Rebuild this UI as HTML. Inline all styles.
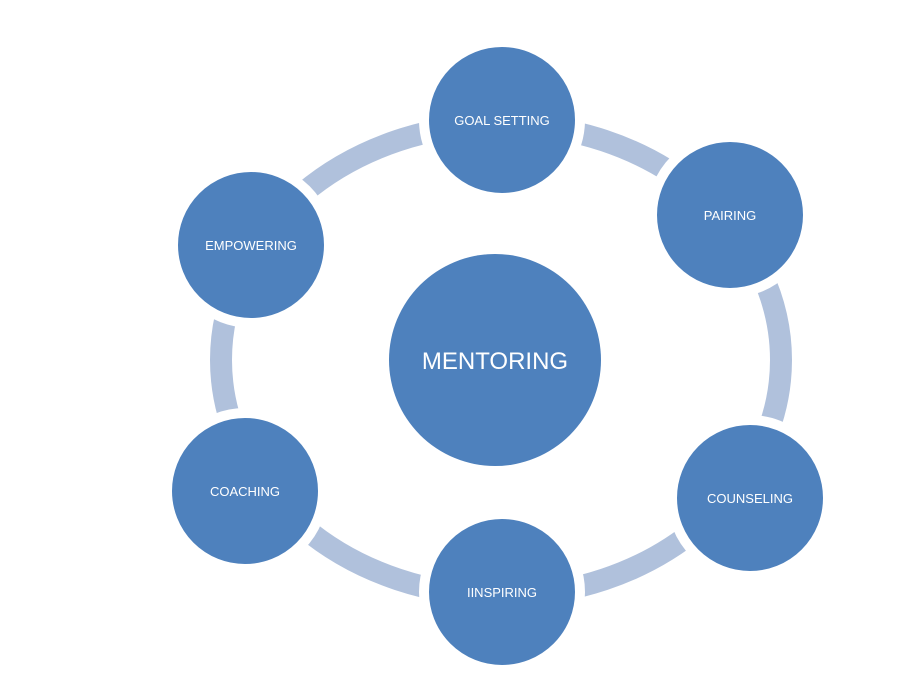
<!DOCTYPE html>
<html><head><style>body{margin:0;background:#fff}svg{display:block}</style></head>
<body>
<svg width="904" height="684" viewBox="0 0 904 684" xmlns="http://www.w3.org/2000/svg" font-family="Liberation Sans, sans-serif">
<rect width="904" height="684" fill="#fff"/>
<ellipse cx="501" cy="360" rx="280" ry="236" fill="none" stroke="#b0c1dc" stroke-width="22"/>
<g fill="#4e81bd" stroke="#fff" stroke-width="10">
<circle cx="502" cy="120" r="78"/>
<circle cx="730" cy="215" r="78"/>
<circle cx="750" cy="498" r="78"/>
<circle cx="502" cy="592" r="78"/>
<circle cx="245" cy="491" r="78"/>
<circle cx="251" cy="245" r="78"/>
</g>
<circle cx="495" cy="360" r="106" fill="#4e81bd"/>
<g fill="#fff" font-size="13" text-anchor="middle">
<text x="502" y="125">GOAL SETTING</text>
<text x="730" y="220">PAIRING</text>
<text x="750" y="503">COUNSELING</text>
<text x="502" y="597">IINSPIRING</text>
<text x="245" y="496">COACHING</text>
<text x="251" y="250">EMPOWERING</text>
<text x="495" y="369" font-size="24">MENTORING</text>
</g>
</svg>
</body></html>
